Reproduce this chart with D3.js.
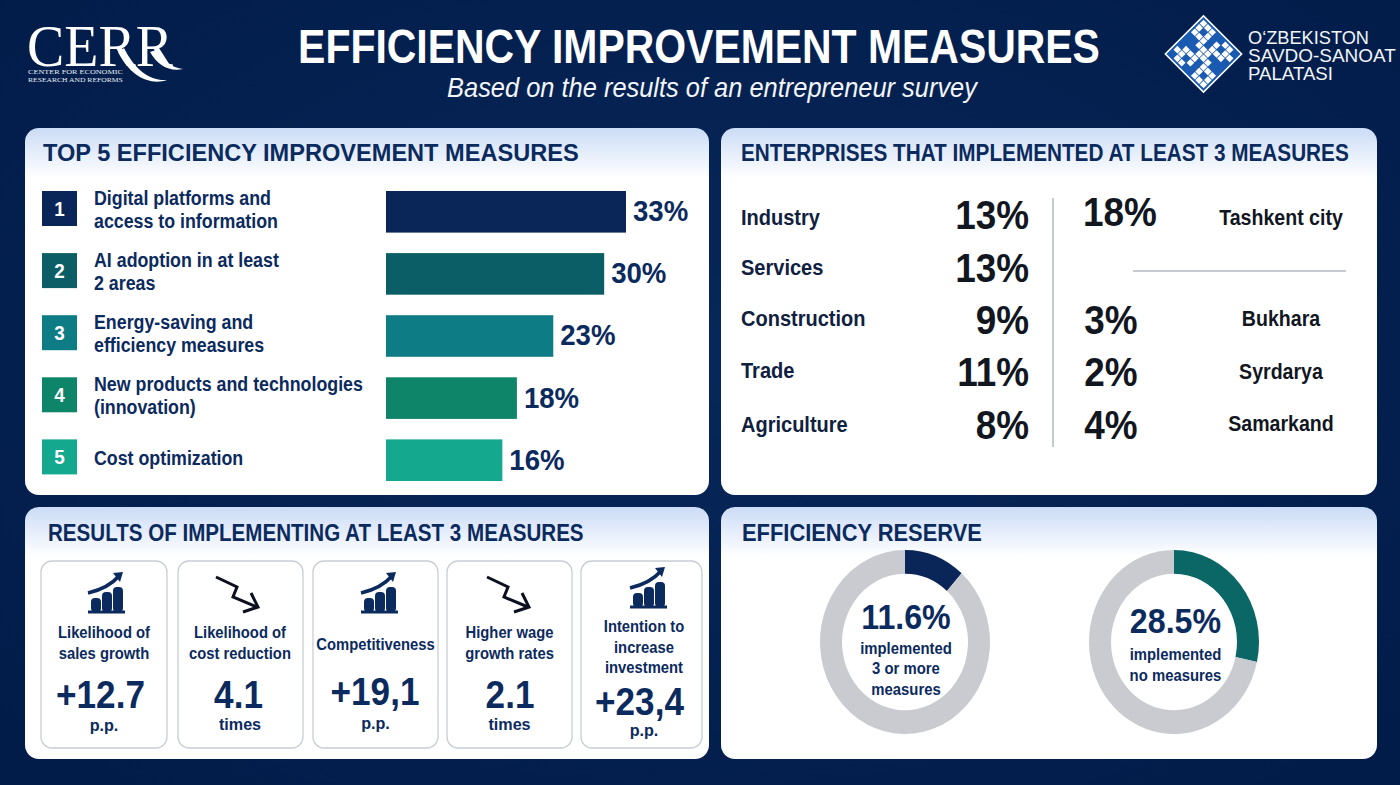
<!DOCTYPE html>
<html>
<head>
<meta charset="utf-8">
<script src="https://cdn.jsdelivr.net/npm/d3@7"></script>
<style>
  html, body { margin: 0; padding: 0; background: #04204f; overflow: hidden; }
  svg { display: block; }
  text { font-family: "Liberation Sans", Arial, sans-serif; font-weight: 700; fill: #0b2a5e; }
</style>
</head>
<body>
<div id="chart"></div>
<script>
// Top 5 measures
const measures = [["Digital platforms and", "access to information"], ["AI adoption in at least", "2 areas"],
    ["Energy-saving and", "efficiency measures"], ["New products and technologies", "(innovation)"], ["Cost optimization"]];
const measureValues = [33, 30, 23, 18, 16];
const measureColors = ["#0a2558", "#0b5e66", "#0d7c85", "#0e8468", "#14a98e"];

// At least 3 measures, by sector and region
const sectors = ["Industry", "Services", "Construction", "Trade", "Agriculture"];
const sectorValues = [13, 13, 9, 11, 8];
const regions = ["Tashkent city", "Bukhara", "Syrdarya", "Samarkand"];
const regionValues = [18, 3, 2, 4];

// Result cards
const cardLabels = [["Likelihood of", "sales growth"], ["Likelihood of", "cost reduction"], ["Competitiveness"],
    ["Higher wage", "growth rates"], ["Intention to", "increase", "investment"]];
const cardValues = ["+12.7", "4.1", "+19,1", "2.1", "+23,4"];
const cardUnits = ["p.p.", "times", "p.p.", "times", "p.p."];
const cardTrend = ["up", "down", "up", "down", "up"];

// Efficiency reserve
const reserveValues = [11.6, 28.5];
const reserveLabels = [["implemented", "3 or more", "measures"], ["implemented", "no measures"]];
const reserveColors = ["#0a2558", "#0b6766"];

const width = 1400, height = 785;
const navy = "#0b2a5e";
const ink = "#12161f";

const svg = d3.select("#chart").append("svg")
    .attr("width", width)
    .attr("height", height);

const defs = svg.append("defs");
const bgGrad = defs.append("radialGradient").attr("id", "bgGrad").attr("cx", "50%").attr("cy", "45%").attr("r", "70%");
bgGrad.append("stop").attr("offset", "0%").attr("stop-color", "#07275a");
bgGrad.append("stop").attr("offset", "100%").attr("stop-color", "#021c49");

svg.append("rect").attr("width", width).attr("height", height).attr("fill", "url(#bgGrad)");

// The picture is a bit stretched upwards, so most text gets a horizontal squeeze
function label(g, str, x, y, size, opts = {}) {
    const t = g.append("text")
        .attr("font-size", size)
        .attr("text-anchor", opts.anchor || "start")
        .attr("dominant-baseline", "central")
        .text(str);
    if (opts.fill) t.style("fill", opts.fill);
    if (opts.weight) t.style("font-weight", opts.weight);
    if (opts.style) t.style("font-style", opts.style);
    if (opts.family) t.style("font-family", opts.family);
    const k = opts.fit ? opts.fit / t.node().getComputedTextLength() : (opts.sx || 1);
    t.attr("transform", `translate(${x},${y}) scale(${k},1)`);
    return t;
}

// Header
label(svg, "EFFICIENCY IMPROVEMENT MEASURES", 699, 46, 48, { anchor: "middle", fill: "#ffffff", fit: 802 });
label(svg, "Based on the results of an entrepreneur survey", 712, 88, 27, {
    anchor: "middle", fill: "#f2f5fa", weight: 400, style: "italic", fit: 530
});

// CERR logo
const cerr = svg.append("g");
label(cerr, "CERR", 27, 46, 60, { fill: "#ffffff", weight: 400, family: "Liberation Serif", fit: 146 });
cerr.append("path")
    .attr("d", "M124,48 C134,68 148,81 167,80 C150,86 130,76 118,52 Z")
    .attr("fill", "#ffffff");
cerr.append("path")
    .attr("d", "M156,50 C162,60 172,68 183,69 C170,72 158,66 150,52 Z")
    .attr("fill", "#ffffff");
label(cerr, "CENTER FOR ECONOMIC", 28, 72.5, 6, { fill: "#e8edf5", weight: 400, family: "Liberation Serif", fit: 95 });
label(cerr, "RESEARCH AND REFORMS", 28, 79.8, 6, { fill: "#e8edf5", weight: 400, family: "Liberation Serif", fit: 95 });

// Chamber logo, tiled diamond
const tile = svg.append("g").attr("transform", "translate(1203.5,54) rotate(45)");
tile.append("rect").attr("x", -27).attr("y", -27).attr("width", 54).attr("height", 54)
    .attr("fill", "#1a5ab0").attr("stroke", "#ffffff").attr("stroke-width", 1.5);
const tileMask = ["11100110", "10101011", "11101110", "00111000", "00011100", "01110111", "11010101", "01100111"];
const tileScale = d3.scaleBand().domain(d3.range(8)).range([-25, 25]).padding(0.12);
tileMask.forEach((row, i) => {
    row.split("").forEach((c, j) => {
        if (c === "1") {
            tile.append("rect")
                .attr("x", tileScale(j))
                .attr("y", tileScale(i))
                .attr("width", tileScale.bandwidth())
                .attr("height", tileScale.bandwidth())
                .attr("fill", "#ffffff");
        }
    });
});
label(svg, "O\u2018ZBEKISTON", 1248, 37, 19, { fill: "#f2f5fa", weight: 400, fit: 121 });
label(svg, "SAVDO-SANOAT", 1248, 55, 19, { fill: "#f2f5fa", weight: 400, fit: 148 });
label(svg, "PALATASI", 1248, 73, 19, { fill: "#f2f5fa", weight: 400, fit: 85 });

// Panels
const panels = [
    { x: 25, y: 128, w: 684, h: 367, title: "TOP 5 EFFICIENCY IMPROVEMENT MEASURES", tx: 43, ty: 152.5, fit: 536 },
    { x: 721, y: 128, w: 656, h: 367, title: "ENTERPRISES THAT IMPLEMENTED AT LEAST 3 MEASURES", tx: 741, ty: 152.5, fit: 608 },
    { x: 25, y: 507, w: 684, h: 252, title: "RESULTS OF IMPLEMENTING AT LEAST 3 MEASURES", tx: 48, ty: 532.5, fit: 536 },
    { x: 721, y: 507, w: 656, h: 252, title: "EFFICIENCY RESERVE", tx: 742, ty: 532.5, fit: 240 }
];
panels.forEach((p, i) => {
    const grad = defs.append("linearGradient")
        .attr("id", "panelGrad" + i)
        .attr("gradientUnits", "userSpaceOnUse")
        .attr("x1", 0).attr("x2", 0).attr("y1", p.y).attr("y2", p.y + 50);
    grad.append("stop").attr("offset", "0%").attr("stop-color", "#cbdcf6");
    grad.append("stop").attr("offset", "100%").attr("stop-color", "#ffffff");
    svg.append("rect")
        .attr("x", p.x).attr("y", p.y)
        .attr("width", p.w).attr("height", p.h)
        .attr("rx", 14)
        .attr("fill", `url(#panelGrad${i})`);
    label(svg, p.title, p.tx, p.ty, 24.5, { fit: p.fit });
});

// Top 5 bars
const x = d3.scaleLinear().domain([0, 33]).range([386, 626]);
const y = d3.scaleBand()
    .domain(d3.range(measures.length))
    .range([191, 481])
    .paddingInner(0.33);

svg.selectAll(".bar")
    .data(measureValues)
    .enter()
    .append("rect")
    .attr("class", "bar")
    .attr("x", x(0))
    .attr("y", (d, i) => y(i))
    .attr("width", d => x(d) - x(0))
    .attr("height", y.bandwidth())
    .attr("fill", (d, i) => measureColors[i]);

measureValues.forEach((d, i) => {
    const cy = y(i) + y.bandwidth() / 2;
    label(svg, d + "%", x(d) + 7, cy - 1, 30, { sx: 0.92 });
    svg.append("rect")
        .attr("x", 42).attr("y", y(i))
        .attr("width", 35).attr("height", 35)
        .attr("fill", measureColors[i]);
    label(svg, i + 1, 59.5, y(i) + 17.5, 21, { anchor: "middle", fill: "#ffffff", sx: 0.9 });
    const lines = measures[i];
    lines.forEach((line, k) => {
        label(svg, line, 94, cy - 2 + (k - (lines.length - 1) / 2) * 23, 20, { sx: 0.89 });
    });
});

// Sector and region table
const sectorLabelY = [217, 267, 318, 370, 424];
const sectorValueY = [215, 268, 320, 372, 425];
const regionValueX = [1120, 1111, 1111, 1111];
const regionValueY = [212, 320, 372, 425];
const regionLabelY = [217, 318, 371, 423];
sectors.forEach((s, i) => {
    label(svg, s, 741, sectorLabelY[i], 22, { fill: "#10203f", sx: 0.91 });
    label(svg, sectorValues[i] + "%", 1029, sectorValueY[i], 41, { anchor: "end", fill: ink, sx: 0.9 });
});
regions.forEach((r, i) => {
    label(svg, regionValues[i] + "%", regionValueX[i], regionValueY[i], 41, { anchor: "middle", fill: ink, sx: 0.9 });
    label(svg, r, 1281, regionLabelY[i], 22, { anchor: "middle", fill: ink, sx: 0.89 });
});
svg.append("line").attr("x1", 1053).attr("x2", 1053).attr("y1", 198).attr("y2", 447)
    .attr("stroke", "#b4b8be").attr("stroke-width", 1.5);
svg.append("line").attr("x1", 1133).attr("x2", 1346).attr("y1", 271).attr("y2", 271)
    .attr("stroke", "#b4b8be").attr("stroke-width", 1.5);

// Result cards
const cardBox = [[41, 126], [178, 125], [313, 125], [447, 125], [581, 121]];
const cardLabelX = [104, 240, 375.5, 509.5, 644];
const cardLabelY = [[632, 653], [632, 653], [644], [632, 653], [626, 647, 667]];
const cardValueX = [100.5, 238.5, 375, 510, 639.5];
const cardValueY = [694, 694, 691, 694, 701];
const cardUnitY = [725, 724, 723, 724, 730];
const cardIconX = [105, 235, 378, 506, 647];
const cardIconY = [612, 612, 612, 612, 607];

function iconUp(g) {
    g.append("path").attr("d", "M-17,-19 C-4,-22 7,-28 14,-36").attr("fill", "none")
        .attr("stroke", navy).attr("stroke-width", 3.5);
    g.append("path").attr("d", "M8,-39 L18,-40 L15,-30 Z").attr("fill", navy);
    g.append("rect").attr("x", -17).attr("y", -1.5).attr("width", 37).attr("height", 3).attr("fill", navy);
    [[-14, 14], [-3, 20], [8, 25]].forEach(b => {
        g.append("rect").attr("x", b[0]).attr("y", -b[1]).attr("width", 10).attr("height", b[1])
            .attr("rx", 4).attr("fill", navy);
    });
}
function iconDown(g) {
    g.append("path").attr("d", "M-19,-35 L2,-25 L-2,-15 L22,-5").attr("fill", "none")
        .attr("stroke", "#0a1020").attr("stroke-width", 3);
    g.append("path").attr("d", "M16,-19 L23,-5 L8,0").attr("fill", "none")
        .attr("stroke", "#0a1020").attr("stroke-width", 3);
}

cardLabels.forEach((lines, i) => {
    const [bx, bw] = cardBox[i];
    svg.append("rect")
        .attr("x", bx).attr("y", 561)
        .attr("width", bw).attr("height", 187)
        .attr("rx", 11)
        .attr("fill", "#ffffff")
        .attr("stroke", "#c9ced6")
        .attr("stroke-width", 1.3);
    const icon = svg.append("g").attr("transform", `translate(${cardIconX[i]},${cardIconY[i]})`);
    if (cardTrend[i] === "up") iconUp(icon); else iconDown(icon);
    lines.forEach((line, k) => label(svg, line, cardLabelX[i], cardLabelY[i][k], 17.2, { anchor: "middle", sx: 0.86 }));
    label(svg, cardValues[i], cardValueX[i], cardValueY[i], 39, { anchor: "middle", sx: 0.9 });
    label(svg, cardUnits[i], cardLabelX[i], cardUnitY[i], 17, { anchor: "middle", sx: 0.95 });
});

// Donuts
const donutX = [905, 1174];
const donutY = 642;
const pie = d3.pie().sort(null);
const arc = d3.arc().innerRadius(63).outerRadius(85);
const donutTextX = [906, 1175.5];
const donutTextY = [[617, 648, 668, 689], [621, 654, 675]];

reserveValues.forEach((v, i) => {
    // rings are slightly taller than wide in the picture
    const g = svg.append("g").attr("transform", `translate(${donutX[i]},${donutY}) scale(1,1.083)`);
    g.selectAll("path")
        .data(pie([v, 100 - v]))
        .enter()
        .append("path")
        .attr("d", arc)
        .attr("fill", (d, k) => k === 0 ? reserveColors[i] : "#c9cbd0");
    label(svg, v.toFixed(1) + "%", donutTextX[i], donutTextY[i][0], 35, { anchor: "middle", sx: 0.92 });
    reserveLabels[i].forEach((line, k) => {
        label(svg, line, donutTextX[i], donutTextY[i][k + 1], 17, { anchor: "middle", sx: 0.875 });
    });
});
</script>
</body>
</html>
